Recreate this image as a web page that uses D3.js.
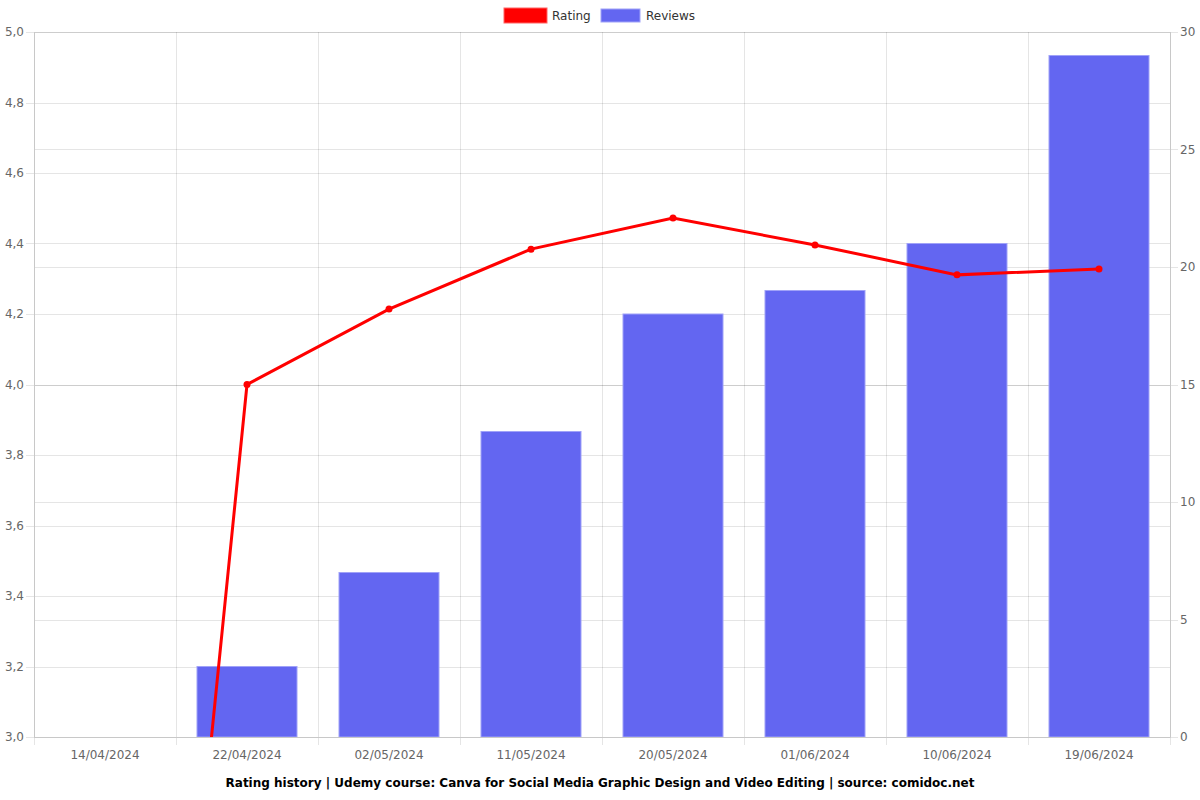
<!DOCTYPE html>
<html><head><meta charset="utf-8">
<script src="https://cdn.jsdelivr.net/npm/d3@7"></script>
<style>body{margin:0;background:#fff;}svg{display:block;font-family:"DejaVu Sans",sans-serif;}</style>
</head><body><svg id="c" width="1200" height="800"></svg>
<script>
const categories = ["14/04/2024","22/04/2024","02/05/2024","11/05/2024","20/05/2024","01/06/2024","10/06/2024","19/06/2024"];
const ratings = [0, 4.0, 4.214, 4.384, 4.472, 4.396, 4.311, 4.328];
const reviews = [0, 3, 7, 13, 18, 19, 21, 29];
const leftTicks = [3.0,3.2,3.4,3.6,3.8,4.0,4.2,4.4,4.6,4.8,5.0];
const rightTicks = [0,5,10,15,20,25,30];
const title = "Rating history | Udemy course: Canva for Social Media Graphic Design and Video Editing | source: comidoc.net";

const svg = d3.select("#c");
const L=34, R=1170, T=32, B=737;
const x = d3.scaleBand().domain(categories).range([L,R]).paddingInner(0).paddingOuter(0);
const yL = d3.scaleLinear().domain([3,5]).range([B,T]);
const yR = d3.scaleLinear().domain([0,30]).range([B,T]);
const grid = "rgba(0,0,0,0.1)";
const fmt = d => d3.format(".1f")(d).replace(".",",");

// grid
const g = svg.append("g");
const bounds = categories.map(c=>x(c)).concat([R]);
g.selectAll(".vg").data(bounds).join("line")
 .attr("x1",d=>d+0.5).attr("x2",d=>d+0.5).attr("y1",T).attr("y2",B+8).attr("stroke",grid);
g.selectAll(".hl").data(leftTicks).join("line")
 .attr("x1",L-8).attr("x2",R).attr("y1",d=>Math.round(yL(d))+0.5).attr("y2",d=>Math.round(yL(d))+0.5).attr("stroke",grid);
g.selectAll(".hr").data(rightTicks).join("line")
 .attr("x1",L).attr("x2",R+8).attr("y1",d=>Math.round(yR(d))+0.5).attr("y2",d=>Math.round(yR(d))+0.5).attr("stroke",grid);

// bars
const bw = 100;
svg.append("g").selectAll("rect").data(reviews.map((v,i)=>({c:categories[i],v})).filter(d=>d.v>0)).join("rect")
 .attr("x",d=>x(d.c)+x.bandwidth()/2-bw/2).attr("width",bw)
 .attr("y",d=>yR(d.v)).attr("height",d=>B-yR(d.v))
 .attr("fill","rgb(99,102,241)").attr("stroke","rgba(160,162,248,1)").attr("stroke-width",1);

// axes borders
svg.append("line").attr("x1",L+0.5).attr("x2",L+0.5).attr("y1",T).attr("y2",B).attr("stroke","#c8c8c8");
svg.append("line").attr("x1",R+0.5).attr("x2",R+0.5).attr("y1",T).attr("y2",B).attr("stroke","#c8c8c8");
svg.append("line").attr("x1",L).attr("x2",R).attr("y1",B+0.5).attr("y2",B+0.5).attr("stroke","#c8c8c8");

// line (clipped)
svg.append("clipPath").attr("id","clip").append("rect").attr("x",L).attr("y",T-5).attr("width",R-L).attr("height",B-T+5);
const pts = ratings.map((v,i)=>[x(categories[i])+x.bandwidth()/2, yL(v)]);
const lg = svg.append("g").attr("clip-path","url(#clip)");
lg.append("path").attr("d",d3.line()(pts)).attr("fill","none").attr("stroke","#ff0000").attr("stroke-width",3);
lg.selectAll("circle").data(pts).join("circle").attr("cx",d=>d[0]).attr("cy",d=>d[1]).attr("r",3.5).attr("fill","#ff0000");

// tick labels
svg.append("g").selectAll("text").data(leftTicks).join("text")
 .attr("x",L-10).attr("y",d=>yL(d)).attr("dy","0.35em").attr("text-anchor","end")
 .attr("font-size",12).attr("fill","#666").text(fmt);
svg.append("g").selectAll("text").data(rightTicks).join("text")
 .attr("x",R+10).attr("y",d=>yR(d)).attr("dy","0.35em").attr("text-anchor","start")
 .attr("font-size",12).attr("fill","#666").text(d=>d);
svg.append("g").selectAll("text").data(categories).join("text")
 .attr("x",d=>x(d)+x.bandwidth()/2).attr("y",B+22).attr("text-anchor","middle")
 .attr("font-size",12).attr("fill","#666").text(d=>d);

// title
svg.append("text").attr("x",600).attr("y",787).attr("text-anchor","middle").attr("font-size",12)
 .attr("font-weight","bold").attr("fill","#000").text(title);

// legend
const leg = svg.append("g");
leg.append("rect").attr("x",504).attr("y",8).attr("width",43).attr("height",15).attr("fill","#ff0000").attr("stroke","rgba(255,100,100,1)");
leg.append("text").attr("x",552).attr("y",16).attr("dy","0.35em").attr("font-size",12).attr("fill","#333").text("Rating");
leg.append("rect").attr("x",601).attr("y",9).attr("width",39).attr("height",13).attr("fill","rgb(99,102,241)").attr("stroke","rgba(160,162,248,1)");
leg.append("text").attr("x",646).attr("y",16).attr("dy","0.35em").attr("font-size",12).attr("fill","#333").text("Reviews");
</script></body></html>
